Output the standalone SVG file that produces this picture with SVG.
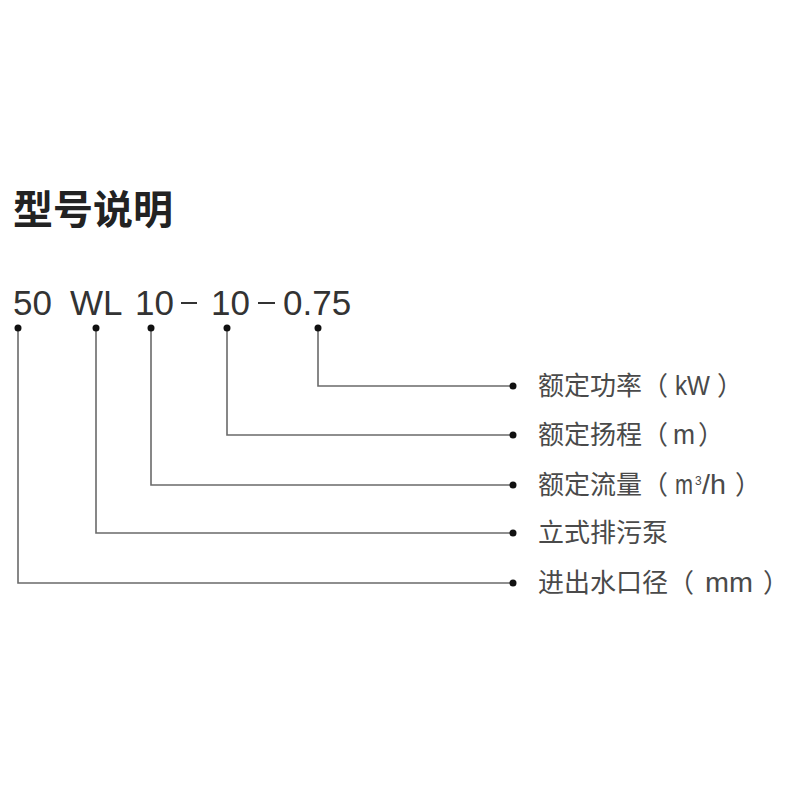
<svg xmlns="http://www.w3.org/2000/svg" width="800" height="800" viewBox="0 0 800 800">
<defs>
<style>
.title{font-family:"Noto Sans CJK SC","Noto Sans",sans-serif;font-size:40px;font-weight:bold;fill:#222}
.model{font-family:"Liberation Sans",Arial,sans-serif;font-size:35px;fill:#333}
.lbl{font-family:"Noto Sans CJK SC","Noto Sans",sans-serif;font-size:26px;fill:#4a4a4a}
.lat{font-family:"Liberation Sans","Noto Sans",sans-serif;font-size:28px}
.sup{font-family:"Liberation Sans","Noto Sans",sans-serif;font-size:12px}
.ln{fill:none;stroke:#6a6a6a;stroke-width:1.6}
.dot{fill:#111}
</style>
</defs>
<rect width="800" height="800" fill="#fff"/>
<g id="title"><text class="title" x="13" y="224">型号说明</text></g>
<g id="model">
<text class="model" x="13" y="315">50</text>
<text class="model" x="70" y="315">WL</text>
<text class="model" x="135" y="315">10</text>
<rect x="181" y="302" width="16" height="2" fill="#333"/>
<text class="model" x="211" y="315">10</text>
<rect x="258" y="302" width="17" height="2" fill="#333"/>
<text class="model" x="283" y="315">0.75</text>
</g>
<g id="connectors">
<polyline class="ln" points="318,328 318,386 513,386"/>
<polyline class="ln" points="227,328 227,435 513,435"/>
<polyline class="ln" points="151,328 151,485 513,485"/>
<polyline class="ln" points="96,328 96,533 513,533"/>
<polyline class="ln" points="18,328 18,583 513,583"/>
<circle class="dot" cx="18" cy="328" r="3.5"/>
<circle class="dot" cx="96" cy="328" r="3.5"/>
<circle class="dot" cx="151" cy="328" r="3.5"/>
<circle class="dot" cx="227" cy="328" r="3.5"/>
<circle class="dot" cx="318" cy="328" r="3.5"/>
<circle class="dot" cx="513" cy="386" r="3.5"/>
<circle class="dot" cx="513" cy="435" r="3.5"/>
<circle class="dot" cx="513" cy="485" r="3.5"/>
<circle class="dot" cx="513" cy="533" r="3.5"/>
<circle class="dot" cx="513" cy="583" r="3.5"/>
</g>
<g id="label-power"><text class="lbl" x="538" y="395">额定功率（<tspan class="lat" x="675" textLength="35" lengthAdjust="spacingAndGlyphs">kW</tspan><tspan x="717">）</tspan></text></g>
<g id="label-head"><text class="lbl" x="538" y="444">额定扬程（<tspan class="lat" x="673" textLength="22" lengthAdjust="spacingAndGlyphs">m</tspan><tspan x="698">）</tspan></text></g>
<g id="label-flow"><text class="lbl" x="538" y="494">额定流量（<tspan class="lat" x="675" textLength="18" lengthAdjust="spacingAndGlyphs">m</tspan><tspan class="sup" x="695" dy="-9">3</tspan><tspan class="lat" x="702" dy="9" textLength="24" lengthAdjust="spacingAndGlyphs">/h</tspan><tspan x="735">）</tspan></text></g>
<g id="label-type"><text class="lbl" x="538" y="542">立式排污泵</text></g>
<g id="label-dia"><text class="lbl" x="538" y="592">进出水口径（<tspan class="lat" x="705" textLength="48" lengthAdjust="spacingAndGlyphs">mm</tspan><tspan x="763">）</tspan></text></g>
</svg>
